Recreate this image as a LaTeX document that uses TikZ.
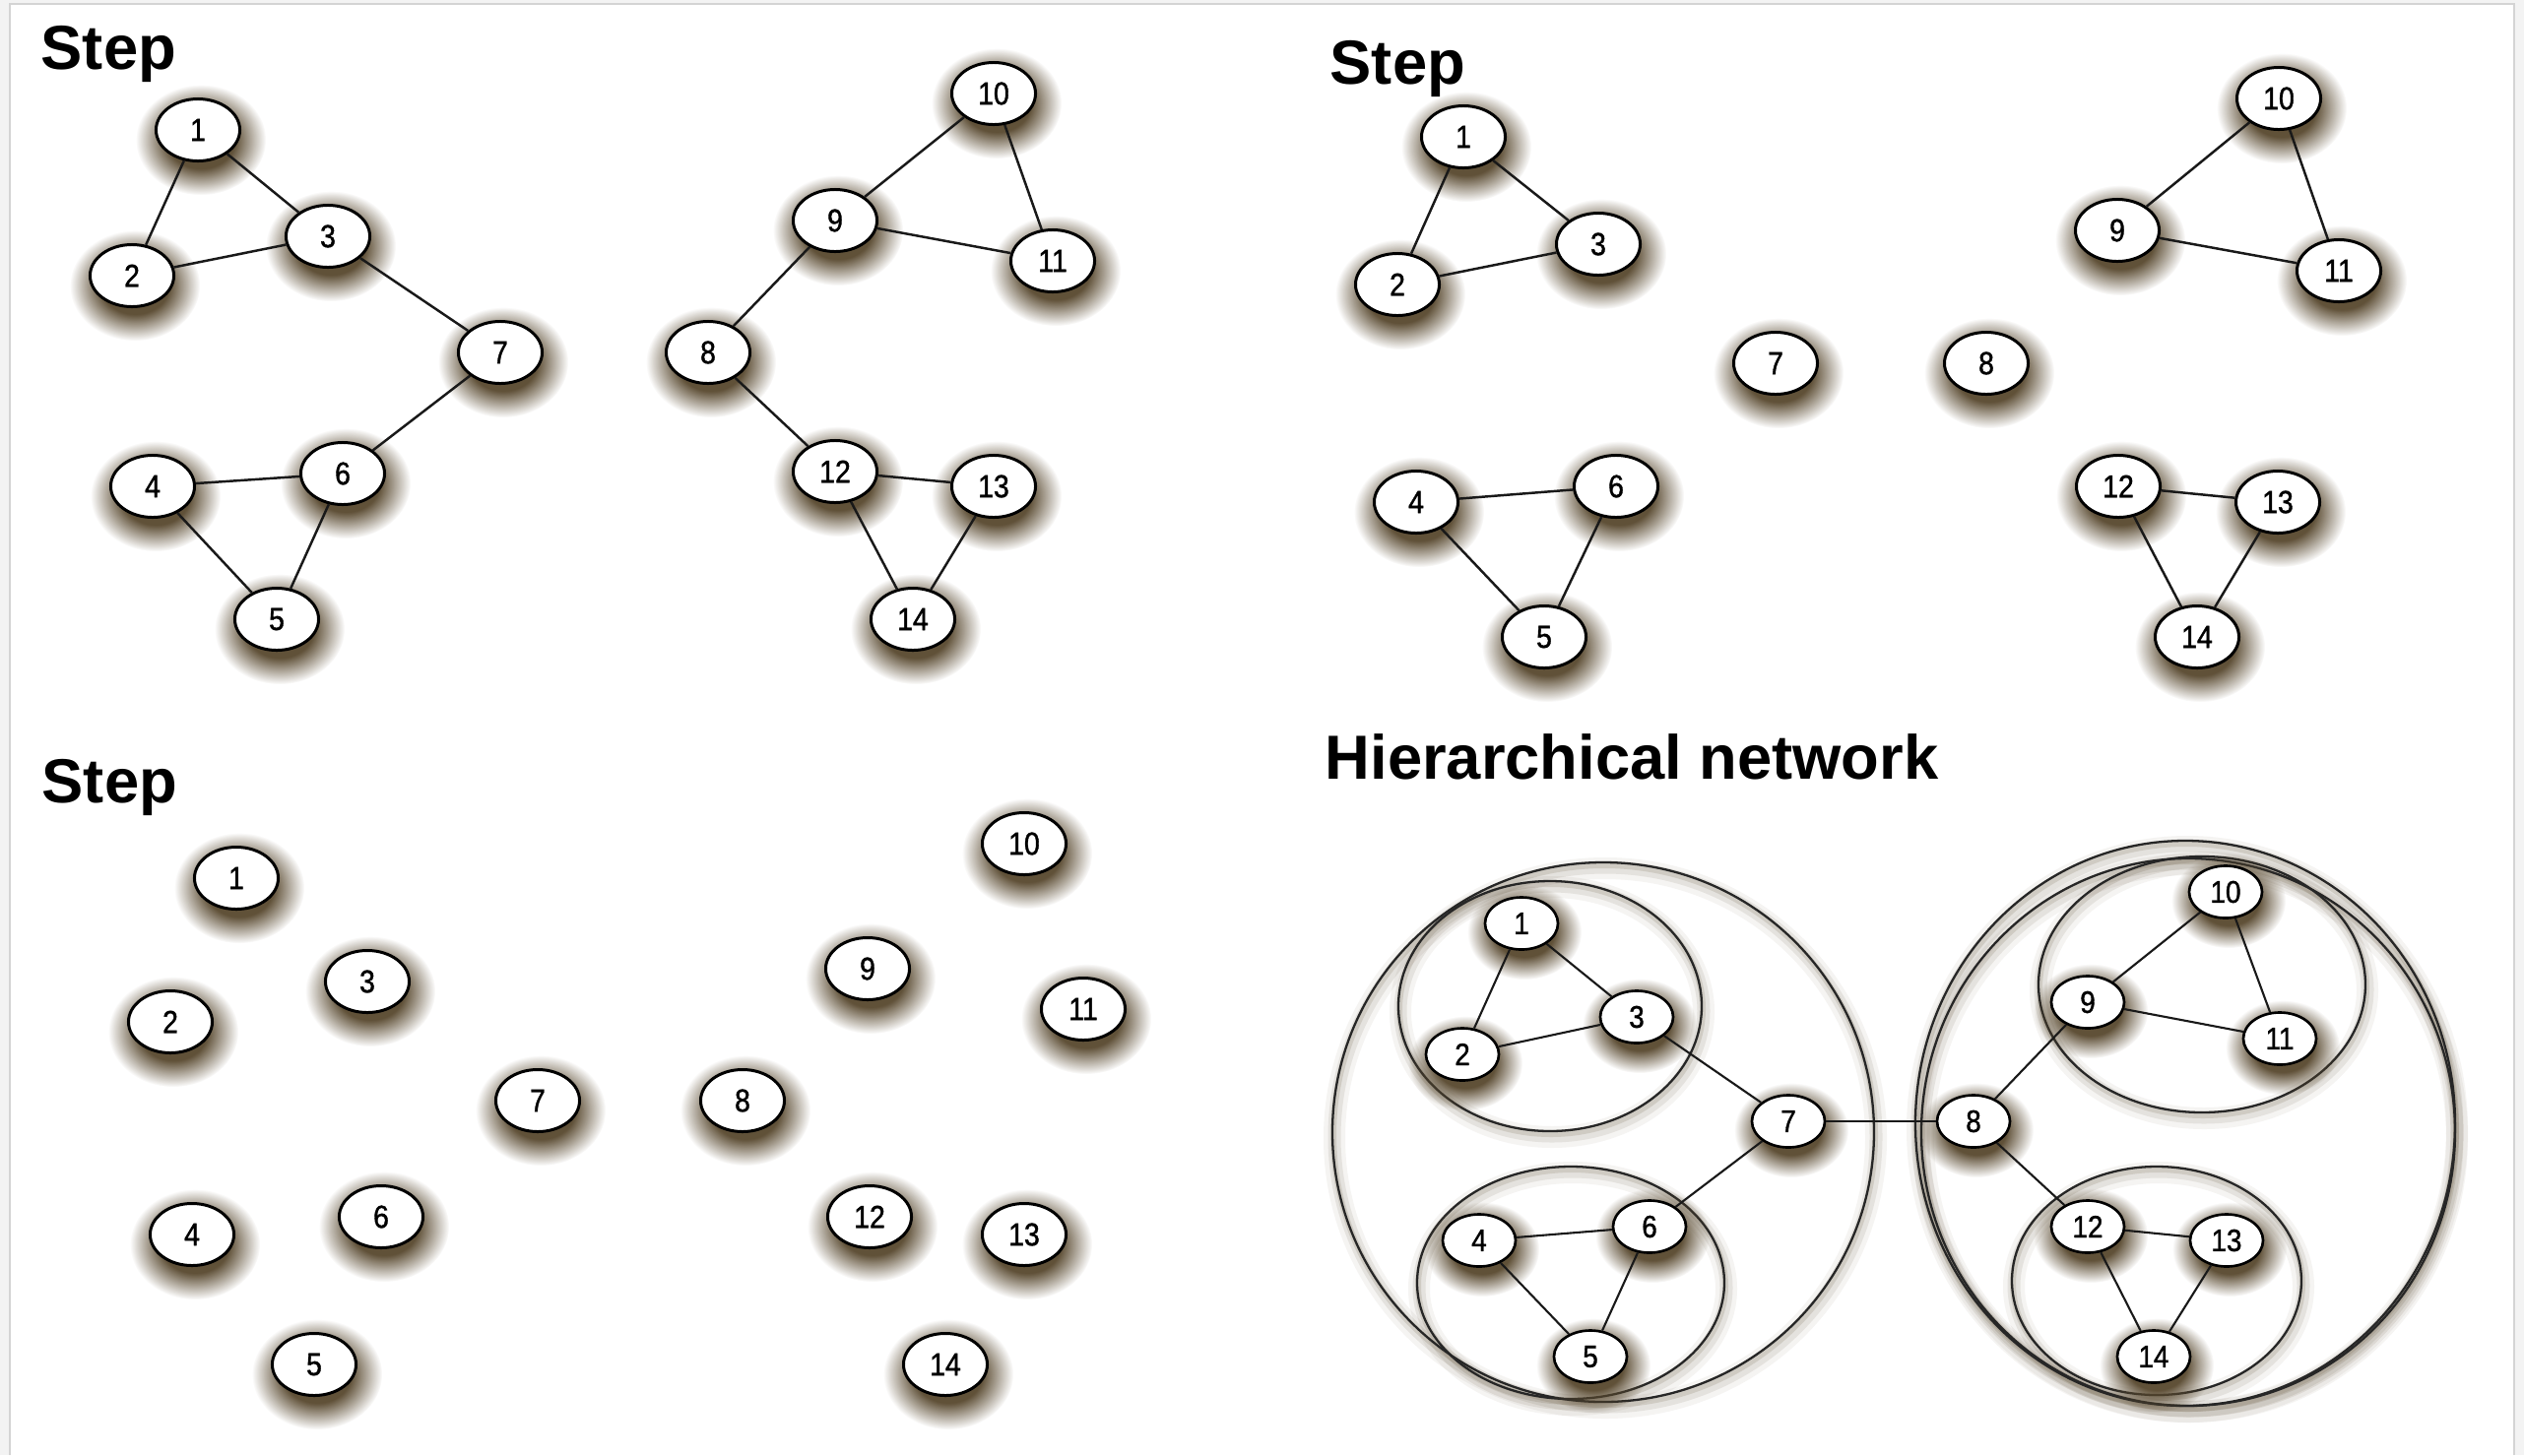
\documentclass[tikz,border=0pt]{standalone}
\usepackage{fontspec}
\setmainfont{Liberation Sans}
\newfontfamily\numfont[FakeStretch=0.88,FakeBold=1.1]{Liberation Sans}
\usetikzlibrary{fadings,shapes.geometric}
\definecolor{shcol}{RGB}{88,72,46}
\definecolor{framecol}{RGB}{212,212,212}
\definecolor{outside}{RGB}{243,243,243}
\pgfdeclareradialshading{glowshade}{\pgfpointorigin}{color(0bp)=(white); color(13bp)=(white); color(25bp)=(black); color(50bp)=(black)}
\pgfdeclarefading{glow}{\pgfuseshading{glowshade}}
\tikzset{
  nodeA/.style={ellipse, draw=black, line width=0.85pt, fill=white, minimum width=0.85cm, minimum height=0.63cm, inner sep=0pt, font=\numfont\fontsize{9.2}{11}\selectfont},
  nodeB/.style={ellipse, draw=black, line width=0.75pt, fill=white, minimum width=0.74cm, minimum height=0.53cm, inner sep=0pt, font=\numfont\fontsize{9}{11}\selectfont},
  edgeA/.style={line width=0.7pt, black!90},
  edgeB/.style={line width=0.6pt, black!90},
  ring/.style={line width=0.65pt, black!85},
  title/.style={anchor=base west, inner sep=0pt, font=\bfseries\fontsize{18}{21}\selectfont}
}
\newcommand\gnA[4]{%
  \fill[shcol, fill opacity=0.95, path fading=glow] (#2+3,#3+10) ellipse [x radius=66, y radius=56];
  \node[nodeA] (#1) at (#2,#3) {#4};}
\newcommand\gnB[4]{%
  \fill[shcol, fill opacity=0.95, path fading=glow] (#2+3,#3+9) ellipse [x radius=58, y radius=48];
  \node[nodeB] (#1) at (#2,#3) {#4};}
\newcommand\gring[4]{%
  \draw[shcol, line width=0.22cm, opacity=0.06] (#1+2,#2+6) ellipse [x radius=#3, y radius=#4];
  \draw[shcol, line width=0.13cm, opacity=0.10] (#1+2,#2+5) ellipse [x radius=#3, y radius=#4];
  \draw[shcol, line width=0.06cm, opacity=0.15] (#1+1,#2+3) ellipse [x radius=#3, y radius=#4];}
\begin{document}
\begin{tikzpicture}[x=0.01cm, y=-0.01cm]
\useasboundingbox (0,0) rectangle (2563,1478);
\fill[outside] (0,0) rectangle (2563,1478);
\fill[white] (10,4) rectangle (2553,1478);
\draw[framecol, line width=0.02cm] (10,1478) -- (10,4) -- (2553,4) -- (2553,1478);

% ---------- titles ----------
\node[title] (t1) at (41,70) {Step};
\node[title] (t2) at (1350,85) {Step};
\node[title] (t3) at (42,815) {Step};
\node[title] (t4) at (1345,791) {Hierarchical network};

% ---------- panel 1 ----------
\gnA{a1}{201}{132}{1}
\gnA{a2}{134}{280}{2}
\gnA{a3}{333}{240}{3}
\gnA{a7}{508}{358}{7}
\gnA{a6}{348}{481}{6}
\gnA{a4}{155}{494}{4}
\gnA{a5}{281}{629}{5}
\gnA{a10}{1009}{95}{10}
\gnA{a9}{848}{224}{9}
\gnA{a11}{1069}{265}{11}
\gnA{a8}{719}{358}{8}
\gnA{a12}{848}{479}{12}
\gnA{a13}{1009}{494}{13}
\gnA{a14}{927}{629}{14}
\draw[edgeA] (a1) -- (a2);
\draw[edgeA] (a1) -- (a3);
\draw[edgeA] (a2) -- (a3);
\draw[edgeA] (a3) -- (a7);
\draw[edgeA] (a7) -- (a6);
\draw[edgeA] (a4) -- (a6);
\draw[edgeA] (a4) -- (a5);
\draw[edgeA] (a6) -- (a5);
\draw[edgeA] (a10) -- (a9);
\draw[edgeA] (a10) -- (a11);
\draw[edgeA] (a9) -- (a11);
\draw[edgeA] (a9) -- (a8);
\draw[edgeA] (a8) -- (a12);
\draw[edgeA] (a12) -- (a13);
\draw[edgeA] (a12) -- (a14);
\draw[edgeA] (a13) -- (a14);

% ---------- panel 2 ----------
\gnA{b1}{1486}{139}{1}
\gnA{b2}{1419}{289}{2}
\gnA{b3}{1623}{248}{3}
\gnA{b10}{2314}{100}{10}
\gnA{b9}{2150}{234}{9}
\gnA{b11}{2375}{275}{11}
\gnA{b7}{1803}{369}{7}
\gnA{b8}{2017}{369}{8}
\gnA{b4}{1438}{510}{4}
\gnA{b6}{1641}{494}{6}
\gnA{b5}{1568}{647}{5}
\gnA{b12}{2151}{494}{12}
\gnA{b13}{2313}{510}{13}
\gnA{b14}{2231}{647}{14}
\draw[edgeA] (b1) -- (b2);
\draw[edgeA] (b1) -- (b3);
\draw[edgeA] (b2) -- (b3);
\draw[edgeA] (b10) -- (b9);
\draw[edgeA] (b10) -- (b11);
\draw[edgeA] (b9) -- (b11);
\draw[edgeA] (b4) -- (b6);
\draw[edgeA] (b4) -- (b5);
\draw[edgeA] (b6) -- (b5);
\draw[edgeA] (b12) -- (b13);
\draw[edgeA] (b12) -- (b14);
\draw[edgeA] (b13) -- (b14);

% ---------- panel 3 ----------
\gnA{c1}{240}{892}{1}
\gnA{c2}{173}{1038}{2}
\gnA{c3}{373}{997}{3}
\gnA{c7}{546}{1118}{7}
\gnA{c8}{754}{1118}{8}
\gnA{c4}{195}{1254}{4}
\gnA{c6}{387}{1236}{6}
\gnA{c5}{319}{1386}{5}
\gnA{c10}{1040}{857}{10}
\gnA{c9}{881}{984}{9}
\gnA{c11}{1100}{1025}{11}
\gnA{c12}{883}{1236}{12}
\gnA{c13}{1040}{1254}{13}
\gnA{c14}{960}{1386}{14}

% ---------- panel 4 ----------
\gring{1628}{1150}{275}{274}
\gring{1574}{1022}{154}{127}
\gring{1595}{1303}{156}{118}
\gring{2219}{1141}{274}{287}
\gring{2222}{1150}{271}{278}
\gring{2236}{1000}{166}{130}
\gring{2190}{1301}{147}{116}
\draw[ring] (1628,1150) ellipse [x radius=275, y radius=274];
\draw[ring] (1574,1022) ellipse [x radius=154, y radius=127];
\draw[ring] (1595,1303) ellipse [x radius=156, y radius=118];
\draw[ring] (2219,1141) ellipse [x radius=274, y radius=287];
\draw[ring] (2222,1150) ellipse [x radius=271, y radius=278];
\draw[ring] (2236,1000) ellipse [x radius=166, y radius=130];
\draw[ring] (2190,1301) ellipse [x radius=147, y radius=116];
\gnB{d1}{1545}{938}{1}
\gnB{d2}{1485}{1071}{2}
\gnB{d3}{1662}{1033}{3}
\gnB{d7}{1816}{1139}{7}
\gnB{d8}{2004}{1139}{8}
\gnB{d6}{1675}{1246}{6}
\gnB{d4}{1502}{1260}{4}
\gnB{d5}{1615}{1378}{5}
\gnB{d10}{2260}{906}{10}
\gnB{d9}{2120}{1018}{9}
\gnB{d11}{2315}{1055}{11}
\gnB{d12}{2120}{1246}{12}
\gnB{d13}{2261}{1260}{13}
\gnB{d14}{2187}{1378}{14}
\draw[edgeB] (d1) -- (d2);
\draw[edgeB] (d1) -- (d3);
\draw[edgeB] (d2) -- (d3);
\draw[edgeB] (d3) -- (d7);
\draw[edgeB] (d7) -- (d6);
\draw[edgeB] (d4) -- (d6);
\draw[edgeB] (d4) -- (d5);
\draw[edgeB] (d6) -- (d5);
\draw[edgeB] (d7) -- (d8);
\draw[edgeB] (d8) -- (d9);
\draw[edgeB] (d8) -- (d12);
\draw[edgeB] (d9) -- (d10);
\draw[edgeB] (d9) -- (d11);
\draw[edgeB] (d10) -- (d11);
\draw[edgeB] (d12) -- (d13);
\draw[edgeB] (d12) -- (d14);
\draw[edgeB] (d13) -- (d14);
\end{tikzpicture}
\end{document}
